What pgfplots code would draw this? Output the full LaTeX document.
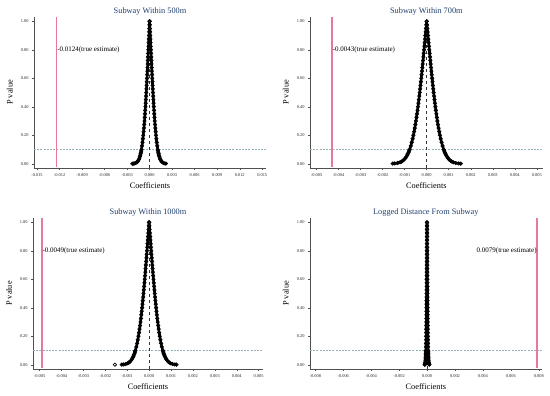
\documentclass[border=0pt]{standalone}
\usepackage{fontspec}
\setmainfont{Liberation Serif}
\usepackage{pgfplots}
\usepackage{pgfplotstable}
\pgfplotsset{compat=1.18}
\definecolor{titleblue}{RGB}{30,62,110}
\definecolor{estred}{RGB}{232,120,155}
\definecolor{refgray}{RGB}{150,178,188}
\definecolor{axgray}{RGB}{80,80,80}

\pgfplotstableread{
p a1 b1 a2 b2 a3 b3 a4 b4
1.000 0 0 0 0 0 0 0 0
0.975 -0.0000207 0.0000207 -0.0000147 0.0000147 -0.0000119 0.0000119 -0.0000016 0.0000016
0.950 -0.0000414 0.0000414 -0.0000295 0.0000295 -0.0000238 0.0000238 -0.0000031 0.0000031
0.925 -0.0000621 0.0000621 -0.0000442 0.0000442 -0.0000358 0.0000358 -0.0000047 0.0000047
0.900 -0.0000830 0.0000830 -0.0000591 0.0000591 -0.0000478 0.0000478 -0.0000063 0.0000063
0.875 -0.0001038 0.0001038 -0.0000739 0.0000739 -0.0000598 0.0000598 -0.0000079 0.0000079
0.850 -0.0001248 0.0001248 -0.0000889 0.0000889 -0.0000719 0.0000719 -0.0000095 0.0000095
0.825 -0.0001459 0.0001459 -0.0001039 0.0001039 -0.0000840 0.0000840 -0.0000111 0.0000111
0.800 -0.0001672 0.0001672 -0.0001191 0.0001191 -0.0000963 0.0000963 -0.0000127 0.0000127
0.775 -0.0001886 0.0001886 -0.0001343 0.0001343 -0.0001086 0.0001086 -0.0000143 0.0000143
0.750 -0.0002103 0.0002103 -0.0001497 0.0001497 -0.0001211 0.0001211 -0.0000159 0.0000159
0.725 -0.0002322 0.0002322 -0.0001653 0.0001653 -0.0001337 0.0001337 -0.0000176 0.0000176
0.700 -0.0002543 0.0002543 -0.0001811 0.0001811 -0.0001464 0.0001464 -0.0000193 0.0000193
0.675 -0.0002767 0.0002767 -0.0001971 0.0001971 -0.0001593 0.0001593 -0.0000210 0.0000210
0.650 -0.0002995 0.0002995 -0.0002133 0.0002133 -0.0001724 0.0001724 -0.0000227 0.0000227
0.625 -0.0003226 0.0003226 -0.0002297 0.0002297 -0.0001857 0.0001857 -0.0000244 0.0000244
0.600 -0.0003461 0.0003461 -0.0002465 0.0002465 -0.0001993 0.0001993 -0.0000262 0.0000262
0.575 -0.0003701 0.0003701 -0.0002635 0.0002635 -0.0002131 0.0002131 -0.0000280 0.0000280
0.550 -0.0003945 0.0003945 -0.0002810 0.0002810 -0.0002272 0.0002272 -0.0000299 0.0000299
0.525 -0.0004195 0.0004195 -0.0002987 0.0002987 -0.0002415 0.0002415 -0.0000318 0.0000318
0.500 -0.0004452 0.0004452 -0.0003170 0.0003170 -0.0002563 0.0002563 -0.0000337 0.0000337
0.475 -0.0004715 0.0004715 -0.0003358 0.0003358 -0.0002715 0.0002715 -0.0000357 0.0000357
0.450 -0.0004986 0.0004986 -0.0003550 0.0003550 -0.0002871 0.0002871 -0.0000378 0.0000378
0.425 -0.0005265 0.0005265 -0.0003749 0.0003749 -0.0003031 0.0003031 -0.0000399 0.0000399
0.400 -0.0005555 0.0005555 -0.0003956 0.0003956 -0.0003198 0.0003198 -0.0000421 0.0000421
0.375 -0.0005855 0.0005855 -0.0004169 0.0004169 -0.0003371 0.0003371 -0.0000444 0.0000444
0.350 -0.0006168 0.0006168 -0.0004393 0.0004393 -0.0003551 0.0003551 -0.0000467 0.0000467
0.325 -0.0006496 0.0006496 -0.0004626 0.0004626 -0.0003740 0.0003740 -0.0000492 0.0000492
0.300 -0.0006840 0.0006840 -0.0004871 0.0004871 -0.0003938 0.0003938 -0.0000518 0.0000518
0.275 -0.0007207 0.0007207 -0.0005132 0.0005132 -0.0004150 0.0004150 -0.0000546 0.0000546
0.250 -0.0007592 0.0007592 -0.0005406 0.0005406 -0.0004371 0.0004371 -0.0000575 0.0000575
0.225 -0.0008015 0.0008015 -0.0005708 0.0005708 -0.0004615 0.0004615 -0.0000607 0.0000607
0.200 -0.0008459 0.0008459 -0.0006024 0.0006024 -0.0004870 0.0004870 -0.0000641 0.0000641
0.175 -0.0008955 0.0008955 -0.0006377 0.0006377 -0.0005156 0.0005156 -0.0000678 0.0000678
0.150 -0.0009501 0.0009501 -0.0006766 0.0006766 -0.0005470 0.0005470 -0.0000720 0.0000720
0.125 -0.0010125 0.0010125 -0.0007210 0.0007210 -0.0005830 0.0005830 -0.0000767 0.0000767
0.100 -0.0010856 0.0010856 -0.0007731 0.0007731 -0.0006251 0.0006251 -0.0000822 0.0000822
0.090 -0.0011190 0.0011190 -0.0007968 0.0007968 -0.0006443 0.0006443 -0.0000848 0.0000848
0.080 -0.0011555 0.0011555 -0.0008228 0.0008228 -0.0006653 0.0006653 -0.0000875 0.0000875
0.070 -0.0011959 0.0011959 -0.0008516 0.0008516 -0.0006885 0.0006885 -0.0000906 0.0000906
0.060 -0.0012413 0.0012413 -0.0008840 0.0008840 -0.0007147 0.0007147 -0.0000940 0.0000940
0.050 -0.0012936 0.0012936 -0.0009212 0.0009212 -0.0007448 0.0007448 -0.0000980 0.0000980
0.040 -0.0013554 0.0013554 -0.0009652 0.0009652 -0.0007804 0.0007804 -0.0001027 0.0001027
0.030 -0.0014323 0.0014323 -0.0010199 0.0010199 -0.0008246 0.0008246 -0.0001085 0.0001085
0.020 -0.0015354 0.0015354 -0.0010934 0.0010934 -0.0008840 0.0008840 -0.0001163 0.0001163
0.015 -0.0016054 0.0016054 -0.0011432 0.0011432 -0.0009243 0.0009243 -0.0001216 0.0001216
0.010 -0.0017000 0.0017000 -0.0012106 0.0012106 -0.0009788 0.0009788 -0.0001288 0.0001288
0.005 -0.0018526 0.0018526 -0.0013193 0.0013193 -0.0010667 0.0010667 -0.0001404 0.0001404
0.002 -0.0020395 0.0020395 -0.0014524 0.0014524 -0.0011743 0.0011743 -0.0001545 0.0001545
0.001 -0.0021717 0.0021717 -0.0015465 0.0015465 -0.0012504 0.0012504 -0.0001645 0.0001645
}\ptab

\tikzset{estlabel/.style={font=\fontsize{7}{8}\selectfont, inner sep=0.6pt}}

\pgfplotsset{
  stata/.style={
    scale only axis,
    height=151pt,
    clip=false,
    axis x line*=bottom, axis y line*=left,
    axis line style={axgray, line width=0.4pt, -},
    every tick/.style={axgray, line width=0.4pt},
    tick align=outside,
    major tick length=2pt,
    ymin=-0.03, ymax=1.03,
    ytick={0,0.2,0.4,0.6,0.8,1},
    scaled x ticks=false, scaled y ticks=false,
    yticklabel={\pgfmathprintnumber[fixed,fixed zerofill,precision=2,assume math mode=true]{\tick}},
    xticklabel={\pgfmathprintnumber[fixed,fixed zerofill,precision=3,assume math mode=true]{\tick}},
    tick label style={font=\fontsize{4.4}{5}\selectfont, text=black!85},
    every axis title/.style={at={(0.5,1)}, anchor=south, yshift=1pt, inner sep=0.5pt,
      font=\fontsize{8.3}{10}\selectfont, text=titleblue},
    xlabel=Coefficients, ylabel=P value,
    every axis x label/.style={at={(axis description cs:0.5,-0.119)}, anchor=center,
      font=\fontsize{8.3}{10}\selectfont},
    every axis y label/.style={at={(axis description cs:-0.104,0.5)}, anchor=center, rotate=90,
      font=\fontsize{8.3}{10}\selectfont},
  },
  pts/.style={only marks, mark=o, mark size=1.7pt, mark options={line width=0.7pt, draw=black, fill=none}},
  band/.style={draw=black, line width=2.6pt, no marks, line join=round, line cap=round},
  zeroline/.style={draw=black!80, dashed, line width=0.5pt},
  tenline/.style={draw=refgray, dash pattern=on 2pt off 1.2pt, line width=0.5pt},
  estline/.style={draw=estred, line width=1.8pt},
}

\begin{document}
\begin{tikzpicture}
\useasboundingbox (0,0) rectangle (550pt,396pt);

% Panel 1
\begin{axis}[stata, at={(34pt,228pt)}, anchor=south west, width=232pt,
  xmin=-0.0154, xmax=0.0155,
  xtick={-0.015,-0.012,-0.009,-0.006,-0.003,0,0.003,0.006,0.009,0.012,0.015},
  title={Subway Within 500m}]
  \addplot[tenline] coordinates {(-0.0154,0.1) (0.0155,0.1)};
  \addplot[estline] coordinates {(-0.0124,-0.02) (-0.0124,1.03)};
  \addplot[band] table[x=a1,y=p] {\ptab};
  \addplot[band] table[x=b1,y=p] {\ptab};
  \addplot[pts] table[x=a1,y=p] {\ptab};
  \addplot[pts] table[x=b1,y=p] {\ptab};
  \addplot[pts] coordinates {(-0.0023,0.0)};
  \addplot[zeroline] coordinates {(0,-0.03) (0,1)};
  \node[estlabel, anchor=west] at (axis cs:-0.0124,0.8) {-0.0124(true estimate)};
\end{axis}

% Panel 2
\begin{axis}[stata, at={(310pt,228pt)}, anchor=south west, width=232.7pt,
  xmin=-0.0053, xmax=0.00527,
  xtick={-0.005,-0.004,-0.003,-0.002,-0.001,0,0.001,0.002,0.003,0.004,0.005},
  title={Subway Within 700m}]
  \addplot[tenline] coordinates {(-0.0053,0.1) (0.00527,0.1)};
  \addplot[estline] coordinates {(-0.0043,-0.02) (-0.0043,1.03)};
  \addplot[band] table[x=a2,y=p] {\ptab};
  \addplot[band] table[x=b2,y=p] {\ptab};
  \addplot[pts] table[x=a2,y=p] {\ptab};
  \addplot[pts] table[x=b2,y=p] {\ptab};
  \addplot[zeroline] coordinates {(0,-0.03) (0,1)};
  \node[estlabel, anchor=west] at (axis cs:-0.0043,0.8) {-0.0043(true estimate)};
\end{axis}

% Panel 3
\begin{axis}[stata, at={(33pt,27pt)}, anchor=south west, width=230pt,
  xmin=-0.0053, xmax=0.0052,
  xtick={-0.005,-0.004,-0.003,-0.002,-0.001,0,0.001,0.002,0.003,0.004,0.005},
  title={Subway Within 1000m}]
  \addplot[tenline] coordinates {(-0.0053,0.1) (0.0052,0.1)};
  \addplot[estline] coordinates {(-0.0049,-0.02) (-0.0049,1.03)};
  \addplot[band] table[x=a3,y=p] {\ptab};
  \addplot[band] table[x=b3,y=p] {\ptab};
  \addplot[pts] table[x=a3,y=p] {\ptab};
  \addplot[pts] table[x=b3,y=p] {\ptab};
  \addplot[pts] coordinates {(-0.00156,0.0)};
  \addplot[zeroline] coordinates {(0,-0.03) (0,1)};
  \node[estlabel, anchor=west] at (axis cs:-0.0049,0.8) {-0.0049(true estimate)};
\end{axis}

% Panel 4
\begin{axis}[stata, at={(310pt,27pt)}, anchor=south west, width=231.7pt,
  xmin=-0.00838, xmax=0.00821,
  xtick={-0.008,-0.006,-0.004,-0.002,0,0.002,0.004,0.006,0.008},
  title={Logged Distance From Subway}]
  \addplot[tenline] coordinates {(-0.00838,0.1) (0.00821,0.1)};
  \addplot[estline] coordinates {(0.0079,-0.02) (0.0079,1.03)};
  \addplot[band] table[x=a4,y=p] {\ptab};
  \addplot[band] table[x=b4,y=p] {\ptab};
  \addplot[pts] table[x=a4,y=p] {\ptab};
  \addplot[pts] table[x=b4,y=p] {\ptab};
  \addplot[zeroline] coordinates {(0,-0.03) (0,1)};
  \node[estlabel, anchor=east] at (axis cs:0.0079,0.8) {0.0079(true estimate)};
\end{axis}
\end{tikzpicture}
\end{document}
